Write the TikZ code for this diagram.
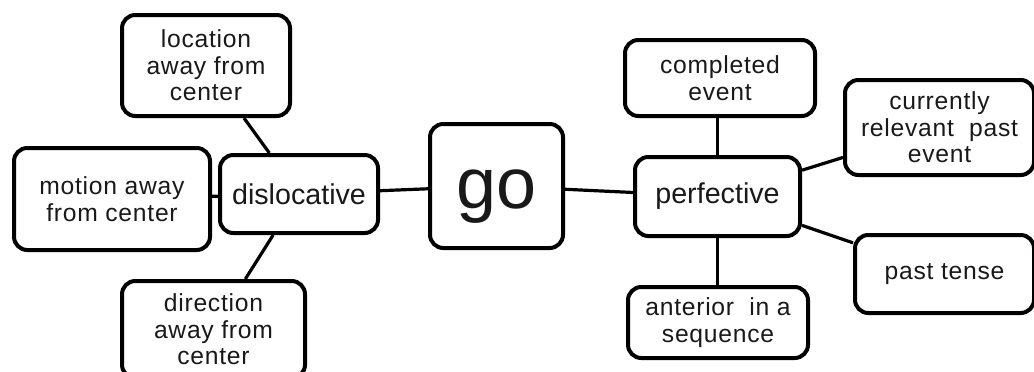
\documentclass[tikz,border=0pt]{standalone}
\usepackage{fontspec}
\setmainfont{Liberation Sans}
\newfontfamily\spacedfont[LetterSpace=3]{Liberation Sans}
\begin{document}
\begin{tikzpicture}[x=0.75pt,y=-0.75pt,
  box/.style={draw=black, line width=3pt, rounded corners=10pt, fill=white,
    align=center, inner sep=0pt, text=black!90},
  small/.style={box, font=\spacedfont\fontsize{18.5}{20}\selectfont},
  mid/.style={box, font=\fontsize{21.5}{24}\selectfont},
  link/.style={line width=2.4pt, draw=black}]
\useasboundingbox (0,0) rectangle (1034,371);
% nodes
\node[small, minimum width=168*0.75pt, minimum height=101*0.75pt] (loc) at (206,65.5) {location\\away from\\center};
\node[small, minimum width=196*0.75pt, minimum height=102*0.75pt] (mot) at (112,199) {motion away\\from center};
\node[mid, minimum width=158*0.75pt, minimum height=78*0.75pt] (dis) at (299,194) {dislocative};
\node[small, minimum width=183*0.75pt, minimum height=97*0.75pt] (dir) at (213.5,329.5) {direction\\away from\\center};
\node[box, font=\fontsize{54}{54}\selectfont, text height=33pt, text depth=0pt, minimum width=133*0.75pt, minimum height=124*0.75pt] (go) at (496.5,186) {go};
\node[mid, minimum width=165*0.75pt, minimum height=79*0.75pt] (perf) at (717.5,196.5) {perfective};
\node[small, minimum width=190*0.75pt, minimum height=76*0.75pt] (comp) at (720,78) {completed\\event};
\node[small, minimum width=189*0.75pt, minimum height=95*0.75pt] (cur) at (939.5,127.5) {currently\\relevant~ past\\event};
\node[small, minimum width=179*0.75pt, minimum height=78*0.75pt] (past) at (944.5,274) {past tense};
\node[small, minimum width=180*0.75pt, minimum height=71*0.75pt] (ant) at (718,322.5) {anterior~ in a\\sequence};
% connectors
\draw[link] (loc) -- (dis);
\draw[link] (mot) -- (dis);
\draw[link] (dir) -- (dis);
\draw[link] (dis) -- (go);
\draw[link] (go) -- (perf);
\draw[link] (comp.south -| perf.north) -- (perf.north);
\draw[link] (perf) -- (cur);
\draw[link] (perf) -- (past);
\draw[link] (perf.south) -- (ant.north -| perf.south);
\end{tikzpicture}
\end{document}
